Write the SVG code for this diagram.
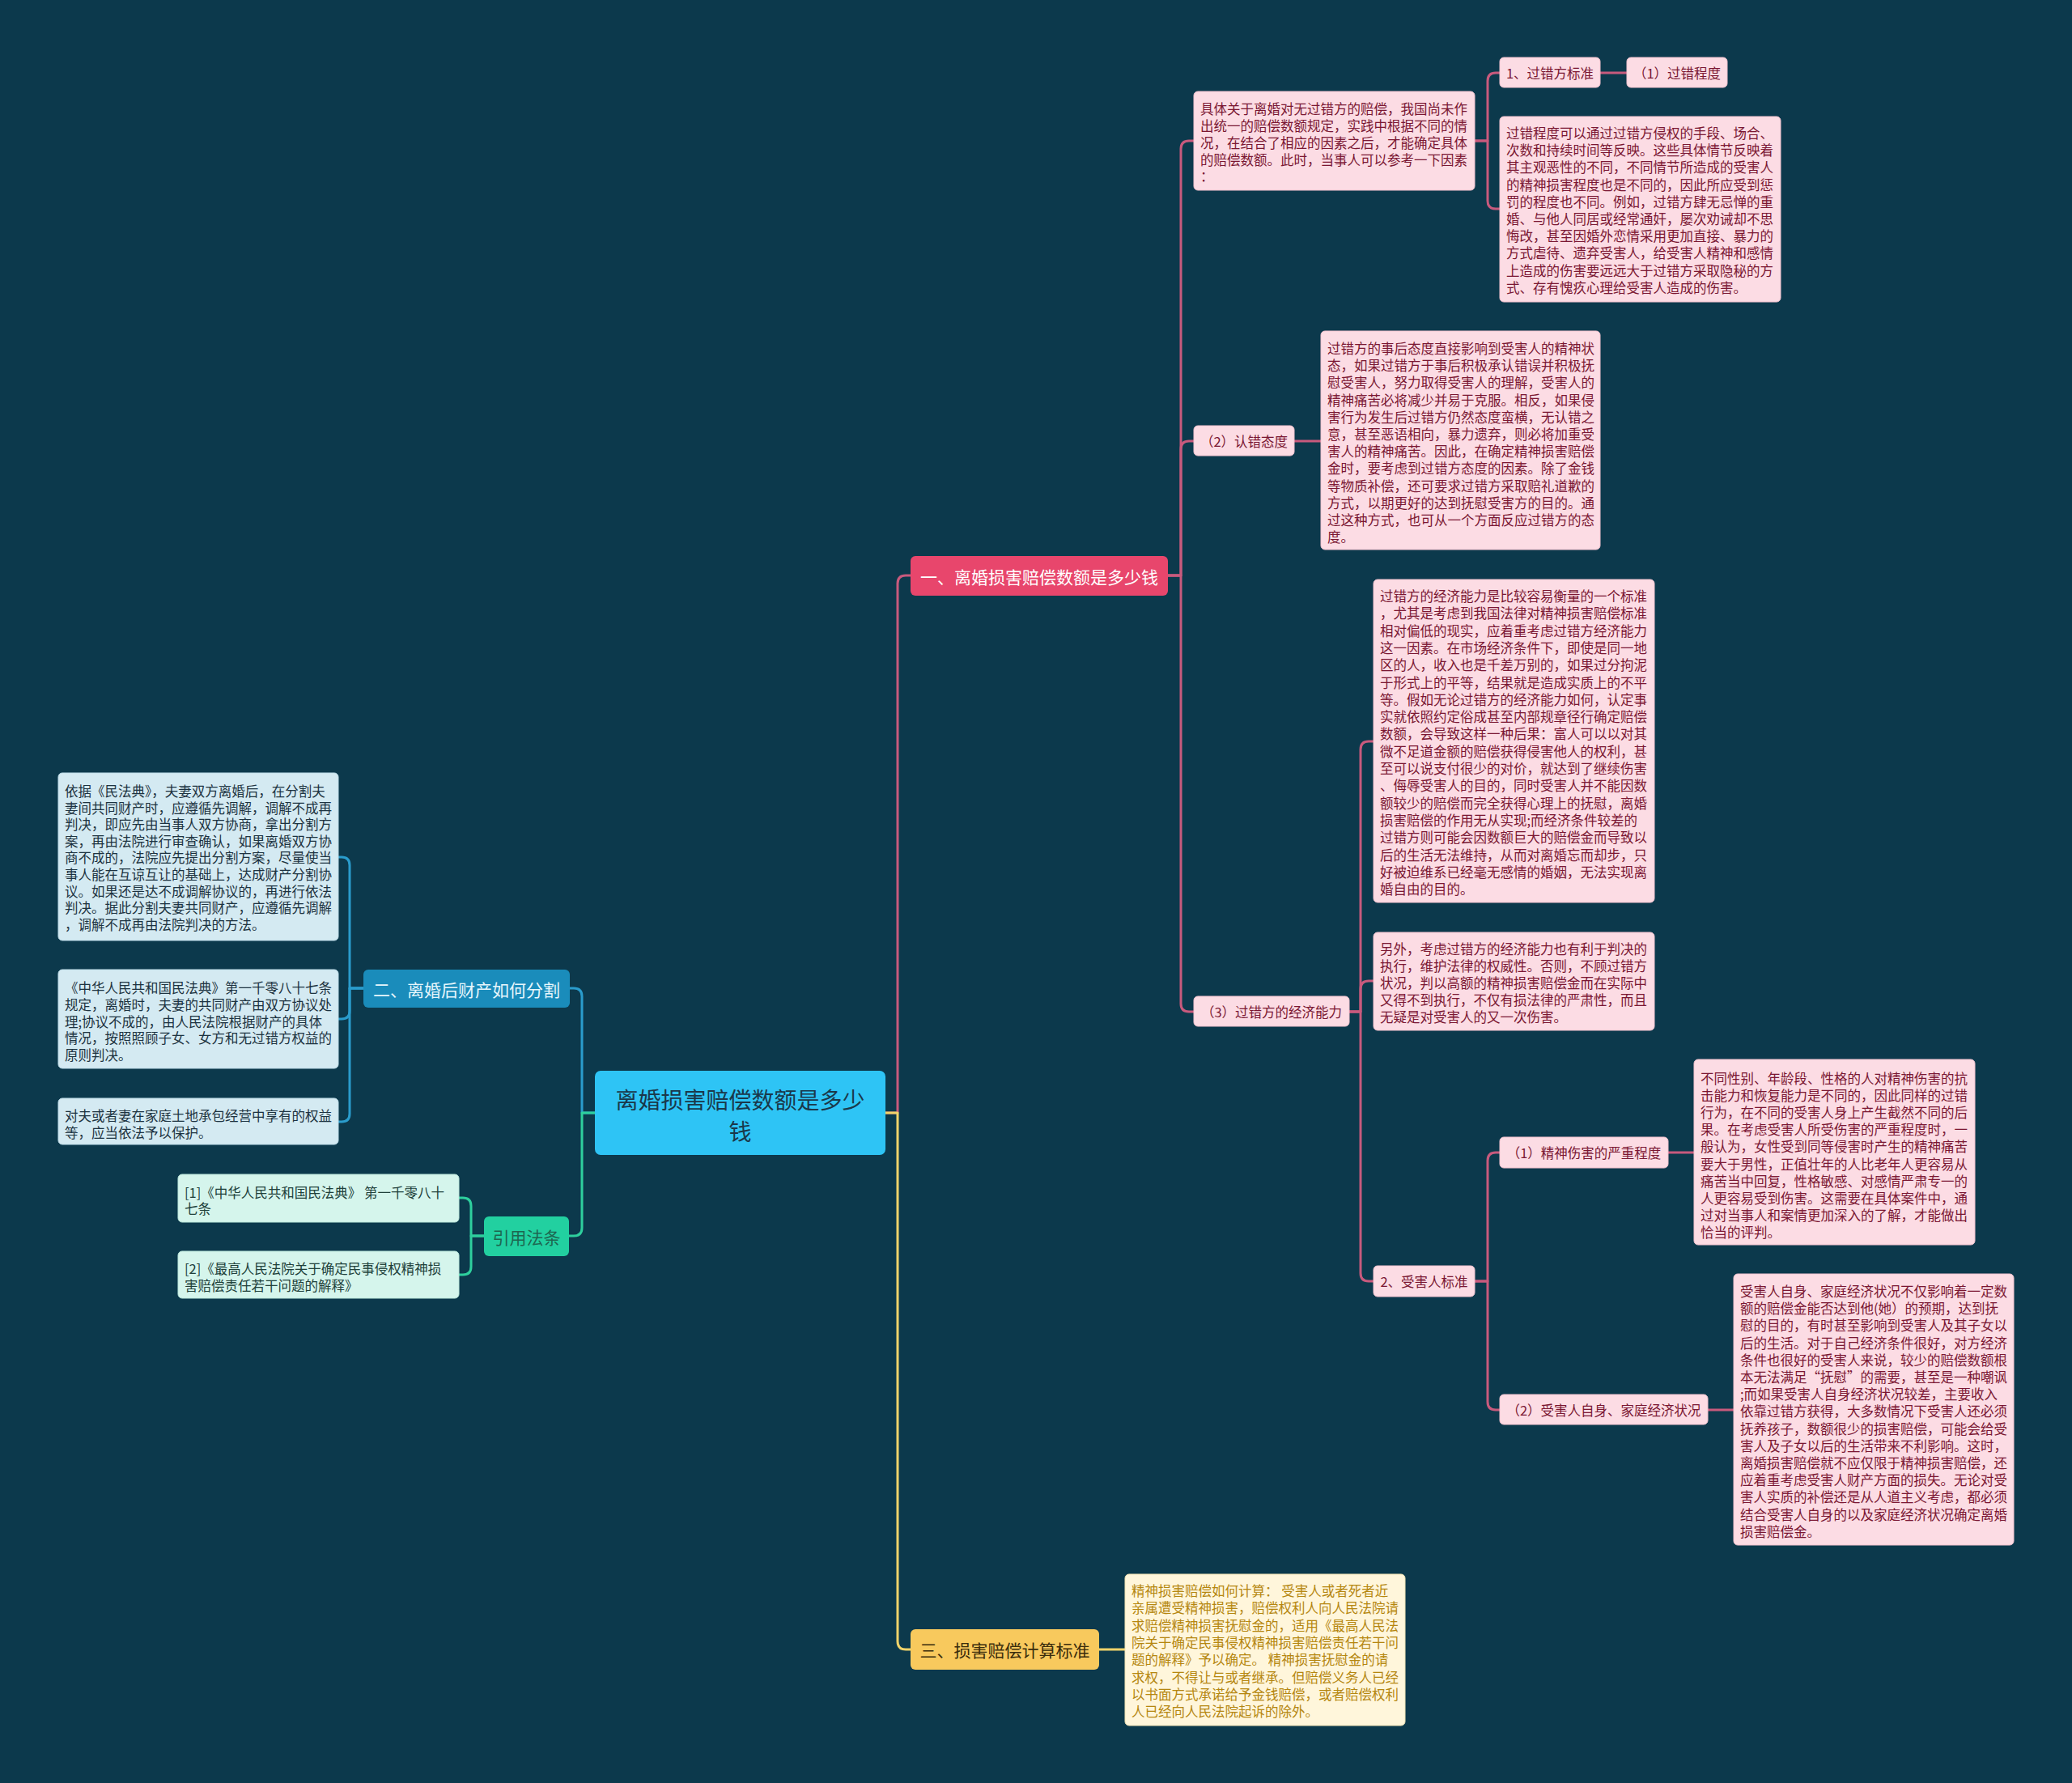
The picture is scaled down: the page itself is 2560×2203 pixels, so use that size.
<svg xmlns="http://www.w3.org/2000/svg" width="2560" height="2203" viewBox="0 0 2560 2203">
<style>
text{font-family:"Noto Sans CJK SC","Liberation Sans",sans-serif;dominant-baseline:central}
.c{fill:none;stroke-width:3;stroke-linecap:round;stroke-linejoin:round}
.cp{stroke:#c85a7d}.cb{stroke:#2a9ccc}.cg{stroke:#2ecf9d}.cy{stroke:#f0d36a}
.pl{fill:#fcdce4;stroke:#f3c3cf;stroke-width:1}
.bl{fill:#d4eaf2;stroke:#bcdbe7;stroke-width:1}
.gl{fill:#d5f5ec;stroke:#bde9dc;stroke-width:1}
.yl{fill:#fff6db;stroke:#f1e3b4;stroke-width:1}
.tp{fill:#7a1632;font-size:16.5px}
.tb{fill:#1c3240;font-size:16.5px}
.tg{fill:#20403a;font-size:16.5px}
.ty{fill:#b5860f;font-size:16.5px}
.lab{text-anchor:middle}
</style>
<rect width="2560" height="2203" fill="#0c394c"/>
<g id="connectors">
<path class="c cp" d="M1094,1375 H1109 V721 Q1109,711 1119,711 H1125"/>
<path class="c cy" d="M1094,1375 H1109 V2028 Q1109,2038 1119,2038 H1125"/>
<path class="c cb" d="M735,1375 H719 V1231 Q719,1221 709,1221 H704"/>
<path class="c cg" d="M735,1375 H719 V1517 Q719,1527 709,1527 H703"/>
<path class="c cp" d="M1443,711 H1459 V184 Q1459,174 1469,174 H1475"/>
<path class="c cp" d="M1443,711 H1459 V555 Q1459,545 1469,545 H1475"/>
<path class="c cp" d="M1443,711 H1459 V1240 Q1459,1250 1469,1250 H1475"/>
<path class="c cp" d="M1822,174 H1838 V100 Q1838,90 1848,90 H1853"/>
<path class="c cp" d="M1822,174 H1838 V248 Q1838,258 1848,258 H1853"/>
<path class="c cp" d="M1977,90 H2010"/>
<path class="c cp" d="M1599,545 H1632"/>
<path class="c cp" d="M1667,1250 H1681 V926 Q1681,916 1691,916 H1697"/>
<path class="c cp" d="M1667,1250 H1681 V1222 Q1681,1212 1691,1212 H1697"/>
<path class="c cp" d="M1667,1250 H1681 V1573 Q1681,1583 1691,1583 H1697"/>
<path class="c cp" d="M1822,1583 H1838 V1434 Q1838,1424 1848,1424 H1853"/>
<path class="c cp" d="M1822,1583 H1838 V1732 Q1838,1742 1848,1742 H1853"/>
<path class="c cp" d="M2061,1424 H2093"/>
<path class="c cp" d="M2110,1742 H2142"/>
<path class="c cy" d="M1358,2038 H1390"/>
<path class="c cb" d="M449,1221 H432 V1069 Q432,1059 422,1059 H418"/>
<path class="c cb" d="M449,1221 H432 V1249 Q432,1259 422,1259 H418"/>
<path class="c cb" d="M449,1221 H432 V1376 Q432,1386 422,1386 H418"/>
<path class="c cg" d="M598,1527 H582 V1490 Q582,1480 572,1480 H567"/>
<path class="c cg" d="M598,1527 H582 V1565 Q582,1575 572,1575 H567"/>
</g>
<g id="center">
<rect x="735" y="1323" width="359" height="104" rx="7" fill="#2ec4f5"/>
<text class="lab" x="914.5" y="1358" fill="#1a384a" font-size="28">离婚损害赔偿数额是多少</text>
<text class="lab" x="914.5" y="1397" fill="#1a384a" font-size="28">钱</text>
</g>
<g id="b1">
<rect x="1125" y="687" width="318" height="49" rx="6" fill="#e8466c"/>
<text class="lab" x="1284" y="711.5" fill="#ffffff" font-size="21">一、离婚损害赔偿数额是多少钱</text>
</g>
<g id="t_top">
<rect class="pl" x="1475" y="113" width="347" height="122" rx="5"/>
<text class="tp" x="1483"><tspan x="1483" y="133.5">具体关于离婚对无过错方的赔偿，我国尚未作</tspan><tspan x="1483" y="154.5">出统一的赔偿数额规定，实践中根据不同的情</tspan><tspan x="1483" y="175.5">况，在结合了相应的因素之后，才能确定具体</tspan><tspan x="1483" y="196.5">的赔偿数额。此时，当事人可以参考一下因素</tspan><tspan x="1483" y="217">：</tspan></text>
</g>
<g id="n_gc">
<rect class="pl" x="1853" y="71" width="124" height="37" rx="5"/>
<text class="tp lab" x="1915" y="89.5">1、过错方标准</text>
</g>
<g id="n_gcd">
<rect class="pl" x="2010" y="71" width="124" height="37" rx="5"/>
<text class="tp lab" x="2072" y="89.5">（1）过错程度</text>
</g>
<g id="t_gcd">
<rect class="pl" x="1853" y="144" width="347" height="229" rx="5"/>
<text class="tp"><tspan x="1861" y="164">过错程度可以通过过错方侵权的手段、场合、</tspan><tspan x="1861" y="185.2">次数和持续时间等反映。这些具体情节反映着</tspan><tspan x="1861" y="206.4">其主观恶性的不同，不同情节所造成的受害人</tspan><tspan x="1861" y="227.6">的精神损害程度也是不同的，因此所应受到惩</tspan><tspan x="1861" y="248.8">罚的程度也不同。例如，过错方肆无忌惮的重</tspan><tspan x="1861" y="270">婚、与他人同居或经常通奸，屡次劝诫却不思</tspan><tspan x="1861" y="291.2">悔改，甚至因婚外恋情采用更加直接、暴力的</tspan><tspan x="1861" y="312.4">方式虐待、遗弃受害人，给受害人精神和感情</tspan><tspan x="1861" y="333.6">上造成的伤害要远远大于过错方采取隐秘的方</tspan><tspan x="1861" y="354.8">式、存有愧疚心理给受害人造成的伤害。</tspan></text>
</g>
<g id="n_rc">
<rect class="pl" x="1475" y="526" width="124" height="37" rx="5"/>
<text class="tp lab" x="1537" y="544.5">（2）认错态度</text>
</g>
<g id="t_rc">
<rect class="pl" x="1632" y="409" width="345" height="270" rx="5"/>
<text class="tp"><tspan x="1640" y="430">过错方的事后态度直接影响到受害人的精神状</tspan><tspan x="1640" y="451.2">态，如果过错方于事后积极承认错误并积极抚</tspan><tspan x="1640" y="472.4">慰受害人，努力取得受害人的理解，受害人的</tspan><tspan x="1640" y="493.6">精神痛苦必将减少并易于克服。相反，如果侵</tspan><tspan x="1640" y="514.8">害行为发生后过错方仍然态度蛮横，无认错之</tspan><tspan x="1640" y="536">意，甚至恶语相向，暴力遗弃，则必将加重受</tspan><tspan x="1640" y="557.2">害人的精神痛苦。因此，在确定精神损害赔偿</tspan><tspan x="1640" y="578.4">金时，要考虑到过错方态度的因素。除了金钱</tspan><tspan x="1640" y="599.6">等物质补偿，还可要求过错方采取赔礼道歉的</tspan><tspan x="1640" y="620.8">方式，以期更好的达到抚慰受害方的目的。通</tspan><tspan x="1640" y="642">过这种方式，也可从一个方面反应过错方的态</tspan><tspan x="1640" y="663.2">度。</tspan></text>
</g>
<g id="n_jj">
<rect class="pl" x="1475" y="1231" width="192" height="37" rx="5"/>
<text class="tp lab" x="1571" y="1249.5">（3）过错方的经济能力</text>
</g>
<g id="t_jj1">
<rect class="pl" x="1697" y="716" width="347" height="399" rx="5"/>
<text class="tp"><tspan x="1705" y="736">过错方的经济能力是比较容易衡量的一个标准</tspan><tspan x="1705" y="757.3">，尤其是考虑到我国法律对精神损害赔偿标准</tspan><tspan x="1705" y="778.6">相对偏低的现实，应着重考虑过错方经济能力</tspan><tspan x="1705" y="799.9">这一因素。在市场经济条件下，即使是同一地</tspan><tspan x="1705" y="821.2">区的人，收入也是千差万别的，如果过分拘泥</tspan><tspan x="1705" y="842.5">于形式上的平等，结果就是造成实质上的不平</tspan><tspan x="1705" y="863.8">等。假如无论过错方的经济能力如何，认定事</tspan><tspan x="1705" y="885.1">实就依照约定俗成甚至内部规章径行确定赔偿</tspan><tspan x="1705" y="906.4">数额，会导致这样一种后果：富人可以以对其</tspan><tspan x="1705" y="927.7">微不足道金额的赔偿获得侵害他人的权利，甚</tspan><tspan x="1705" y="949">至可以说支付很少的对价，就达到了继续伤害</tspan><tspan x="1705" y="970.3">、侮辱受害人的目的，同时受害人并不能因数</tspan><tspan x="1705" y="991.6">额较少的赔偿而完全获得心理上的抚慰，离婚</tspan><tspan x="1705" y="1012.9">损害赔偿的作用无从实现;而经济条件较差的</tspan><tspan x="1705" y="1034.2">过错方则可能会因数额巨大的赔偿金而导致以</tspan><tspan x="1705" y="1055.5">后的生活无法维持，从而对离婚忘而却步，只</tspan><tspan x="1705" y="1076.8">好被迫维系已经毫无感情的婚姻，无法实现离</tspan><tspan x="1705" y="1098.1">婚自由的目的。</tspan></text>
</g>
<g id="t_jj2">
<rect class="pl" x="1697" y="1152" width="347" height="121" rx="5"/>
<text class="tp"><tspan x="1705" y="1172">另外，考虑过错方的经济能力也有利于判决的</tspan><tspan x="1705" y="1193">执行，维护法律的权威性。否则，不顾过错方</tspan><tspan x="1705" y="1214">状况，判以高额的精神损害赔偿金而在实际中</tspan><tspan x="1705" y="1235">又得不到执行，不仅有损法律的严肃性，而且</tspan><tspan x="1705" y="1256">无疑是对受害人的又一次伤害。</tspan></text>
</g>
<g id="n_sh">
<rect class="pl" x="1697" y="1564" width="125" height="38" rx="5"/>
<text class="tp lab" x="1759.5" y="1583">2、受害人标准</text>
</g>
<g id="n_js">
<rect class="pl" x="1853" y="1405" width="208" height="38" rx="5"/>
<text class="tp lab" x="1957" y="1424">（1）精神伤害的严重程度</text>
</g>
<g id="t_js">
<rect class="pl" x="2093" y="1309" width="347" height="229" rx="5"/>
<text class="tp"><tspan x="2101" y="1332">不同性别、年龄段、性格的人对精神伤害的抗</tspan><tspan x="2101" y="1353.1">击能力和恢复能力是不同的，因此同样的过错</tspan><tspan x="2101" y="1374.2">行为，在不同的受害人身上产生截然不同的后</tspan><tspan x="2101" y="1395.3">果。在考虑受害人所受伤害的严重程度时，一</tspan><tspan x="2101" y="1416.4">般认为，女性受到同等侵害时产生的精神痛苦</tspan><tspan x="2101" y="1437.5">要大于男性，正值壮年的人比老年人更容易从</tspan><tspan x="2101" y="1458.6">痛苦当中回复，性格敏感、对感情严肃专一的</tspan><tspan x="2101" y="1479.7">人更容易受到伤害。这需要在具体案件中，通</tspan><tspan x="2101" y="1500.8">过对当事人和案情更加深入的了解，才能做出</tspan><tspan x="2101" y="1521.9">恰当的评判。</tspan></text>
</g>
<g id="n_zs">
<rect class="pl" x="1853" y="1723" width="257" height="37" rx="5"/>
<text class="tp lab" x="1981.5" y="1741.5">（2）受害人自身、家庭经济状况</text>
</g>
<g id="t_zs">
<rect class="pl" x="2142" y="1574" width="346" height="335" rx="5"/>
<text class="tp"><tspan x="2150" y="1595">受害人自身、家庭经济状况不仅影响着一定数</tspan><tspan x="2150" y="1616.2">额的赔偿金能否达到他(她）的预期，达到抚</tspan><tspan x="2150" y="1637.4">慰的目的，有时甚至影响到受害人及其子女以</tspan><tspan x="2150" y="1658.6">后的生活。对于自己经济条件很好，对方经济</tspan><tspan x="2150" y="1679.8">条件也很好的受害人来说，较少的赔偿数额根</tspan><tspan x="2150" y="1701">本无法满足“抚慰”的需要，甚至是一种嘲讽</tspan><tspan x="2150" y="1722.2">;而如果受害人自身经济状况较差，主要收入</tspan><tspan x="2150" y="1743.4">依靠过错方获得，大多数情况下受害人还必须</tspan><tspan x="2150" y="1764.6">抚养孩子，数额很少的损害赔偿，可能会给受</tspan><tspan x="2150" y="1785.8">害人及子女以后的生活带来不利影响。这时，</tspan><tspan x="2150" y="1807">离婚损害赔偿就不应仅限于精神损害赔偿，还</tspan><tspan x="2150" y="1828.2">应着重考虑受害人财产方面的损失。无论对受</tspan><tspan x="2150" y="1849.4">害人实质的补偿还是从人道主义考虑，都必须</tspan><tspan x="2150" y="1870.6">结合受害人自身的以及家庭经济状况确定离婚</tspan><tspan x="2150" y="1891.8">损害赔偿金。</tspan></text>
</g>
<g id="b3">
<rect x="1125" y="2013" width="233" height="50" rx="6" fill="#f8c95d"/>
<text class="lab" x="1241.5" y="2038" fill="#3a2c0c" font-size="21">三、损害赔偿计算标准</text>
</g>
<g id="t_b3">
<rect class="yl" x="1390" y="1945" width="346" height="187" rx="5"/>
<text class="ty"><tspan x="1398" y="1965">精神损害赔偿如何计算： 受害人或者死者近</tspan><tspan x="1398" y="1986.3">亲属遭受精神损害，赔偿权利人向人民法院请</tspan><tspan x="1398" y="2007.6">求赔偿精神损害抚慰金的，适用《最高人民法</tspan><tspan x="1398" y="2028.9">院关于确定民事侵权精神损害赔偿责任若干问</tspan><tspan x="1398" y="2050.2">题的解释》予以确定。 精神损害抚慰金的请</tspan><tspan x="1398" y="2071.5">求权，不得让与或者继承。但赔偿义务人已经</tspan><tspan x="1398" y="2092.8">以书面方式承诺给予金钱赔偿，或者赔偿权利</tspan><tspan x="1398" y="2114.1">人已经向人民法院起诉的除外。</tspan></text>
</g>
<g id="b2">
<rect x="449" y="1198" width="255" height="47" rx="6" fill="#1a8cbb"/>
<text class="lab" x="576.5" y="1221.5" fill="#e6f6fc" font-size="21">二、离婚后财产如何分割</text>
</g>
<g id="t_b2a">
<rect class="bl" x="72" y="955" width="346" height="207" rx="5"/>
<text class="tb"><tspan x="80" y="977">依据《民法典》，夫妻双方离婚后，在分割夫</tspan><tspan x="80" y="997.6">妻间共同财产时，应遵循先调解，调解不成再</tspan><tspan x="80" y="1018.2">判决，即应先由当事人双方协商，拿出分割方</tspan><tspan x="80" y="1038.8">案，再由法院进行审查确认，如果离婚双方协</tspan><tspan x="80" y="1059.4">商不成的，法院应先提出分割方案，尽量使当</tspan><tspan x="80" y="1080">事人能在互谅互让的基础上，达成财产分割协</tspan><tspan x="80" y="1100.6">议。如果还是达不成调解协议的，再进行依法</tspan><tspan x="80" y="1121.2">判决。据此分割夫妻共同财产，应遵循先调解</tspan><tspan x="80" y="1141.8">，调解不成再由法院判决的方法。</tspan></text>
</g>
<g id="t_b2b">
<rect class="bl" x="72" y="1198" width="346" height="122" rx="5"/>
<text class="tb"><tspan x="80" y="1220">《中华人民共和国民法典》第一千零八十七条</tspan><tspan x="80" y="1240.8">规定，离婚时，夫妻的共同财产由双方协议处</tspan><tspan x="80" y="1261.6">理;协议不成的，由人民法院根据财产的具体</tspan><tspan x="80" y="1282.4">情况，按照照顾子女、女方和无过错方权益的</tspan><tspan x="80" y="1303.2">原则判决。</tspan></text>
</g>
<g id="t_b2c">
<rect class="bl" x="72" y="1357" width="346" height="57" rx="5"/>
<text class="tb"><tspan x="80" y="1378">对夫或者妻在家庭土地承包经营中享有的权益</tspan><tspan x="80" y="1398.5">等，应当依法予以保护。</tspan></text>
</g>
<g id="b4">
<rect x="598" y="1503" width="105" height="49" rx="6" fill="#22d0a0"/>
<text class="lab" x="650.5" y="1527.5" fill="#1d6650" font-size="21">引用法条</text>
</g>
<g id="t_b4a">
<rect class="gl" x="220" y="1451" width="347" height="59" rx="5"/>
<text class="tg"><tspan x="228" y="1473">[1]《中华人民共和国民法典》 第一千零八十</tspan><tspan x="228" y="1493">七条</tspan></text>
</g>
<g id="t_b4b">
<rect class="gl" x="220" y="1546" width="347" height="58" rx="5"/>
<text class="tg"><tspan x="228" y="1567">[2]《最高人民法院关于确定民事侵权精神损</tspan><tspan x="228" y="1588">害赔偿责任若干问题的解释》</tspan></text>
</g>
</svg>
